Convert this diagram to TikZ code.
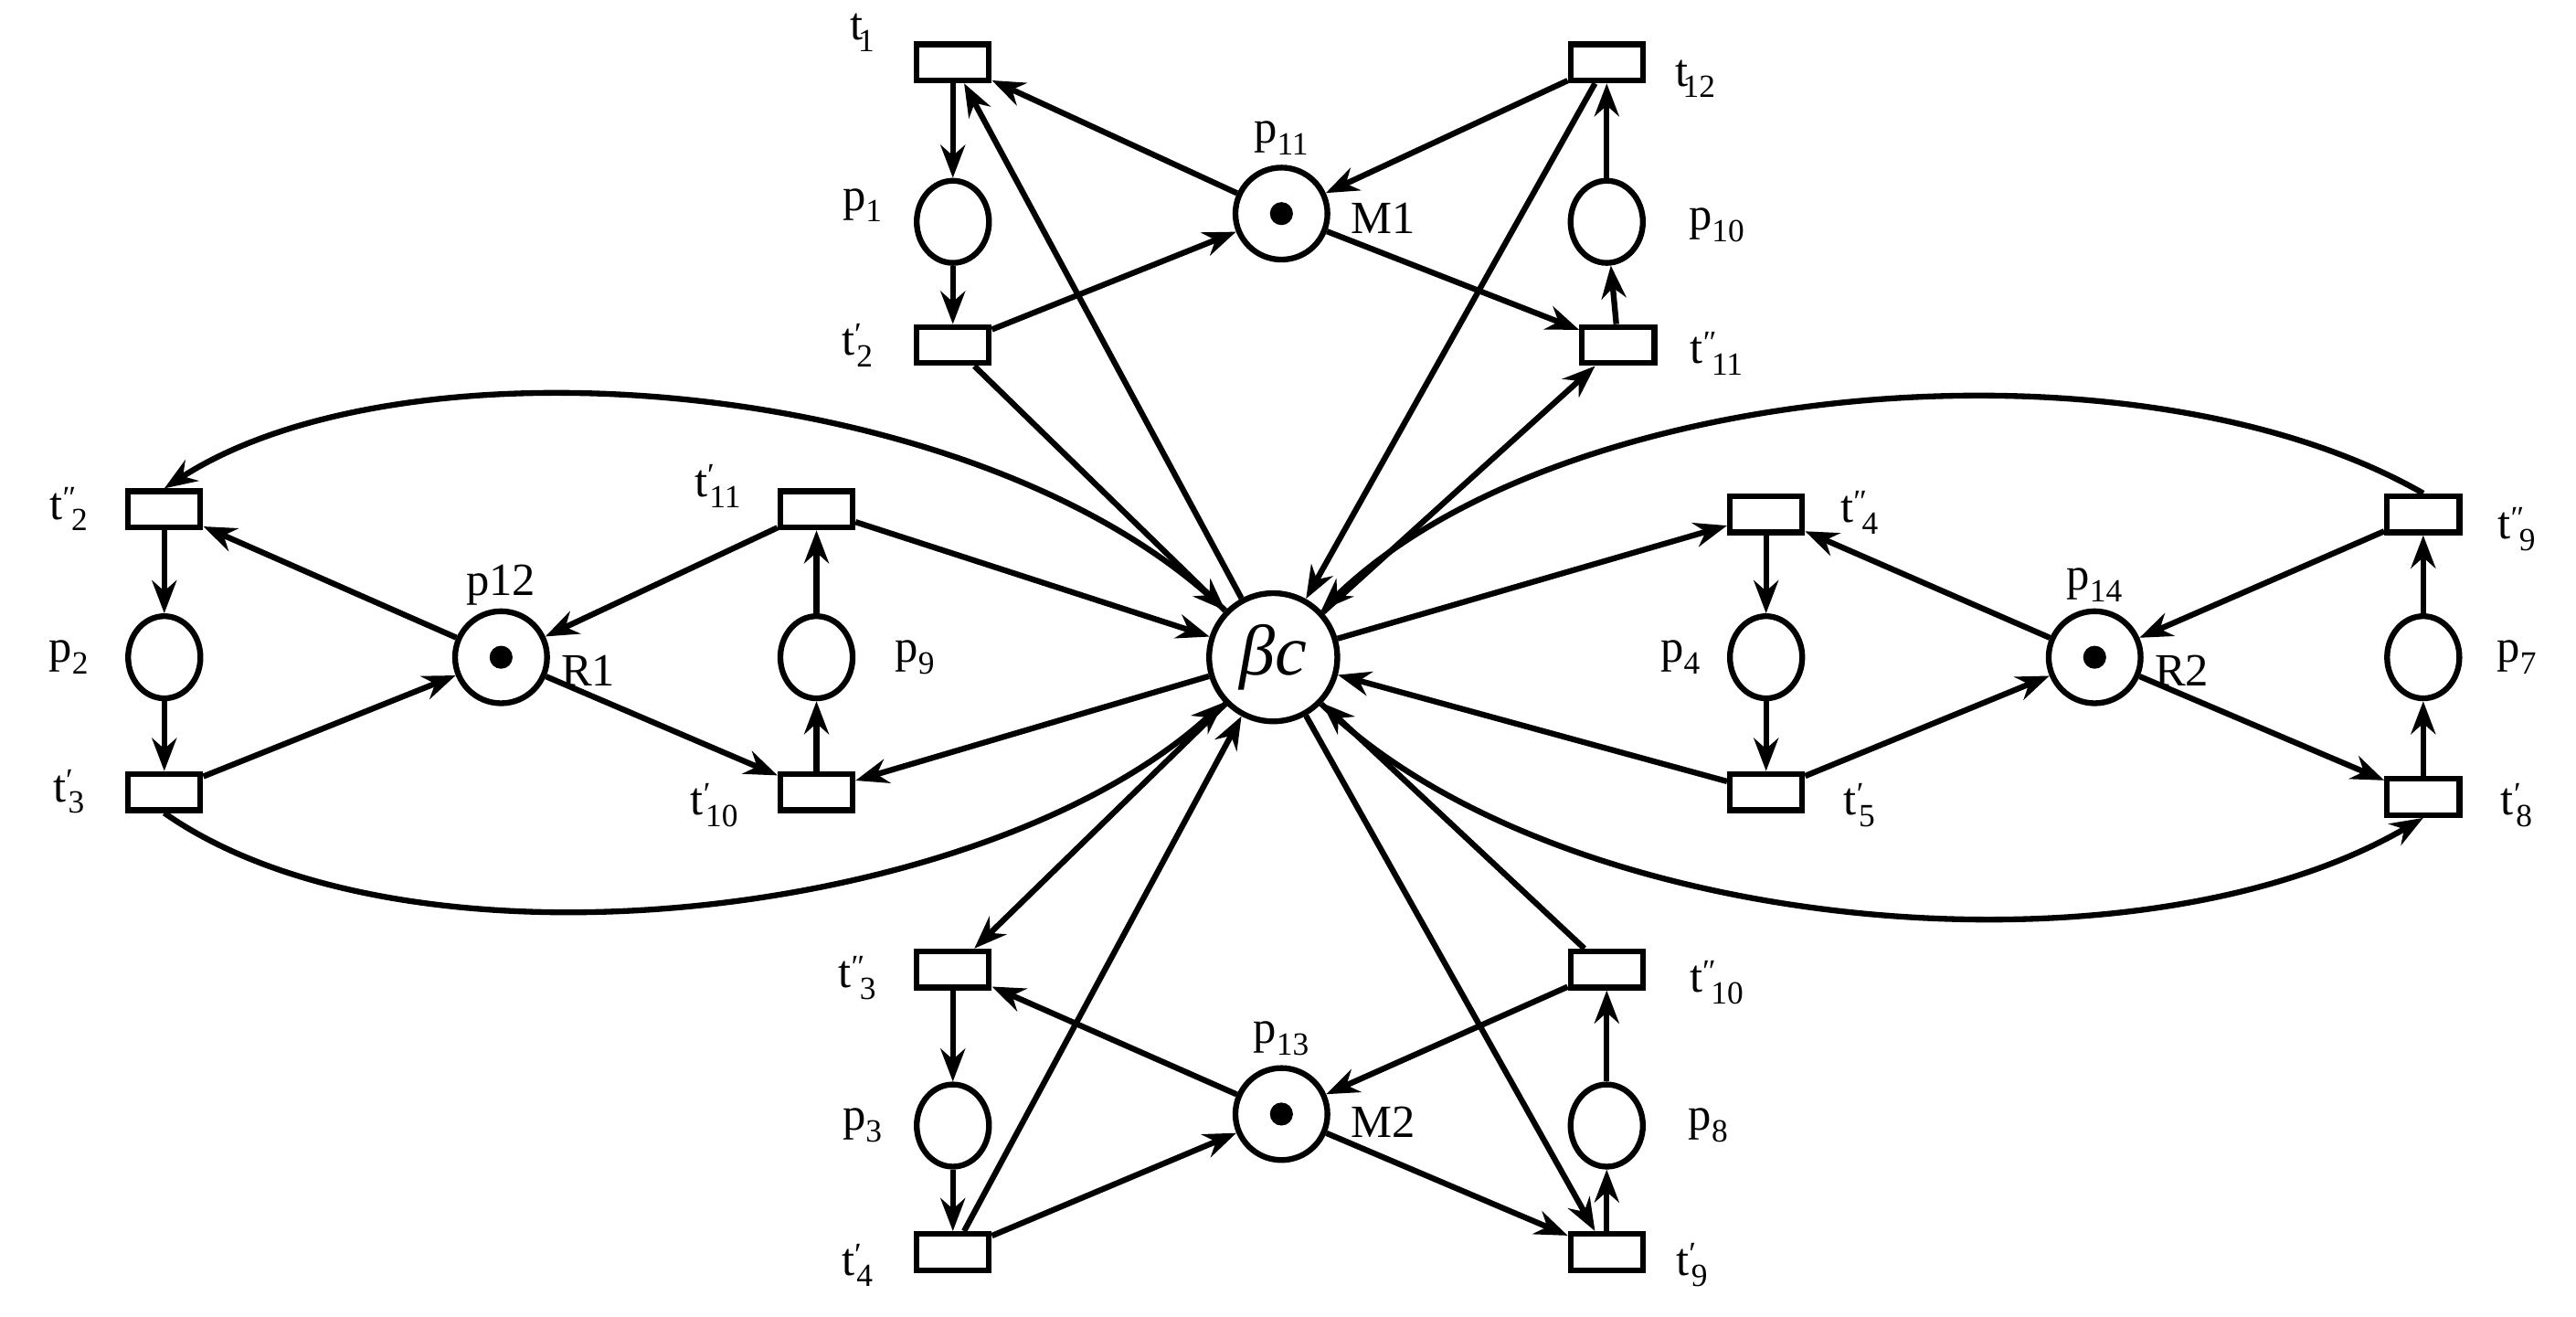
\documentclass[tikz,border=0pt]{standalone}
\usepackage{fontspec}
\setmainfont{Liberation Serif}
\usetikzlibrary{shapes.geometric,arrows.meta}
\newcommand\tlab[2]{t\textsuperscript{#1}\kern-0.12em\textsubscript{#2}}
\begin{document}
\begin{tikzpicture}[x=0.05cm,y=-0.05cm,
  tr/.style={draw,line width=5pt,minimum width=2.2cm,minimum height=1.1cm,inner sep=0},
  pl/.style={draw,ellipse,line width=5pt,minimum width=2.2cm,minimum height=2.5cm,inner sep=0},
  res/.style={draw,circle,line width=5pt,minimum size=2.8cm,inner sep=0},
  tok/.style={fill,circle,minimum size=0.7cm,inner sep=0},
  arc/.style={line width=5pt,-{Stealth[length=1cm,width=0.75cm]}},
  lb/.style={font=\fontsize{40}{48}\selectfont}]
\useasboundingbox (0,0) rectangle (1568,801);
% nodes
\node[tr] (t1) at (580,38) {}; \node[pl] (p1) at (580,135) {}; \node[tr] (t2p) at (580,210) {};
\node[res] (p11) at (780,130) {}; \node[tok] at (780,130) {};
\node[tr] (t12) at (978,38) {}; \node[pl] (p10) at (978,135) {}; \node[tr] (t11pp) at (985,210) {};
\node[tr] (t2pp) at (100,310) {}; \node[pl] (p2) at (100,400) {}; \node[tr] (t3p) at (100,482) {};
\node[res] (p12) at (305,400) {}; \node[tok] at (305,400) {};
\node[tr] (t11p) at (497,310) {}; \node[pl] (p9) at (497,400) {}; \node[tr] (t10p) at (497,482) {};
\node[draw,circle,line width=5pt,minimum size=3.9cm,inner sep=0] (bc) at (775,400) {\fontsize{62}{70}\selectfont\itshape βc};
\node[tr] (t4pp) at (1075,313) {}; \node[pl] (p4) at (1075,400) {}; \node[tr] (t5p) at (1075,482) {};
\node[res] (p14) at (1275,400) {}; \node[tok] at (1275,400) {};
\node[tr] (t9pp) at (1475,313) {}; \node[pl] (p7) at (1475,400) {}; \node[tr] (t8p) at (1475,485) {};
\node[tr] (t3pp) at (580,590) {}; \node[pl] (p3) at (580,685) {}; \node[tr] (t4p) at (580,762) {};
\node[res] (p13) at (780,678) {}; \node[tok] at (780,678) {};
\node[tr] (t10pp) at (978,590) {}; \node[pl] (p8) at (978,685) {}; \node[tr] (t9p) at (978,762) {};
% labels
\begin{scope}[every node/.style=lb]
\node at (525,20) {\tlab{}{1}}; \node at (525,125) {p\textsubscript{1}}; \node at (522,210) {\tlab{′}{2}};
\node at (780,84) {p\textsubscript{11}}; \node at (842,133) {M1};
\node at (1032,48) {\tlab{}{12}}; \node at (1045,137) {p\textsubscript{10}}; \node at (1045,215) {\tlab{″}{11}};
\node at (42,310) {\tlab{″}{2}}; \node at (42,400) {p\textsubscript{2}}; \node at (42,482) {\tlab{′}{3}};
\node at (305,356) {p12}; \node at (358,408) {R1};
\node at (437,296) {\tlab{′}{11}}; \node at (557,400) {p\textsubscript{9}}; \node at (435,490) {\tlab{′}{10}};
\node at (1132,312) {\tlab{″}{4}}; \node at (1023,400) {p\textsubscript{4}}; \node at (1132,490) {\tlab{′}{5}};
\node at (1275,356) {p\textsubscript{14}}; \node at (1328,408) {R2};
\node at (1532,322) {\tlab{″}{9}}; \node at (1532,400) {p\textsubscript{7}}; \node at (1532,490) {\tlab{′}{8}};
\node at (522,595) {\tlab{″}{3}}; \node at (525,685) {p\textsubscript{3}}; \node at (522,770) {\tlab{′}{4}};
\node at (780,632) {p\textsubscript{13}}; \node at (842,683) {M2};
\node at (1045,598) {\tlab{″}{10}}; \node at (1040,685) {p\textsubscript{8}}; \node at (1030,770) {\tlab{′}{9}};
\end{scope}
% arcs
\foreach \a/\b in {t1/p1,p1/t2p,t2p/p11,p11/t1,t12/p11,p11/t11pp,t11pp/p10,p10/t12,
 t2pp/p2,p2/t3p,t3p/p12,p12/t2pp,t11p/p12,p12/t10p,t10p/p9,p9/t11p,
 t4pp/p4,p4/t5p,t5p/p14,p14/t4pp,t9pp/p14,p14/t8p,t8p/p7,p7/t9pp,
 t3pp/p3,p3/t4p,t4p/p13,p13/t3pp,t10pp/p13,p13/t9p,t9p/p8,p8/t10pp,
 bc/t1,t2p/bc,t12/bc,bc/t11pp,t11p/bc,bc/t10p,bc/t4pp,t5p/bc,
 bc/t3pp,t4p/bc,bc/t9p,t10pp/bc}
 \draw[arc] (\a) -- (\b);
\draw[arc] (bc) .. controls (600,230) and (250,200) .. (t2pp.north);
\draw[arc] (t3p.south) .. controls (250,600) and (600,560) .. (bc);
\draw[arc] (t9pp.north) .. controls (1300,200) and (950,230) .. (bc);
\draw[arc] (bc) .. controls (950,570) and (1300,600) .. (t8p.south);
\end{tikzpicture}
\end{document}
